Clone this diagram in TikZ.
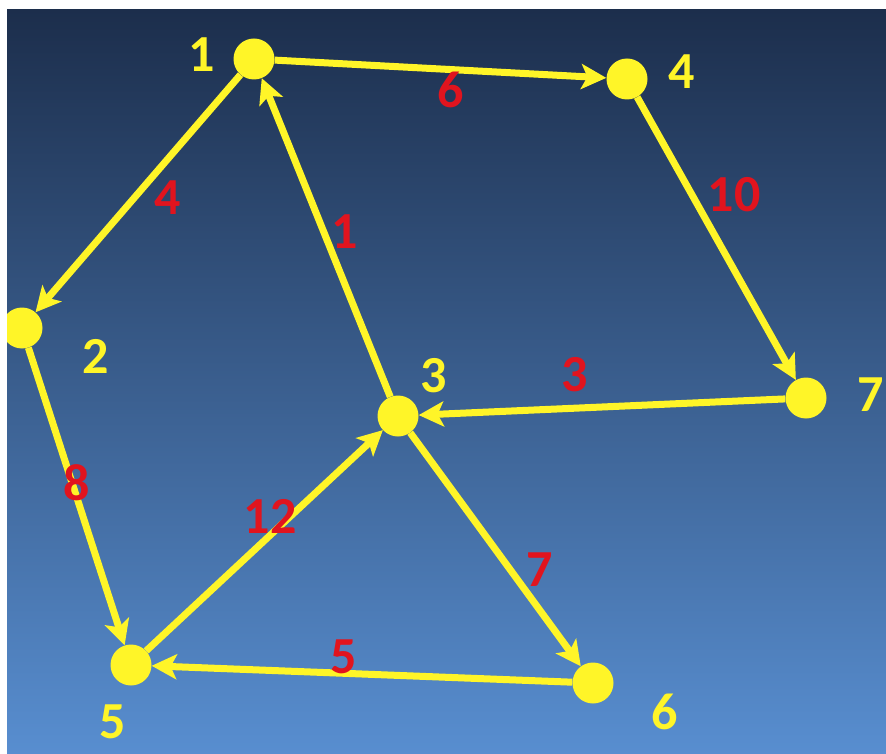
\documentclass[tikz,border=0pt]{standalone}
\usepackage{fontspec}
\setmainfont{Carlito}
\usetikzlibrary{arrows.meta}
\definecolor{ylw}{RGB}{255,245,40}
\definecolor{lblred}{RGB}{225,20,30}
\definecolor{bgtop}{RGB}{28,46,76}
\definecolor{bgbot}{RGB}{88,142,208}
\tikzset{
  vtx/.style={circle,fill=ylw,draw=none,minimum size=41pt,inner sep=0pt},
  vlbl/.style={text=ylw,font=\fontsize{52}{52}\selectfont\bfseries,inner sep=0pt},
  elbl/.style={text=lblred,font=\fontsize{52}{52}\selectfont\bfseries,inner sep=0pt},
  edge/.style={draw=ylw,line width=7pt,-{Stealth[length=25pt,width=25pt,inset=6pt]}}
}
\begin{document}
\begin{tikzpicture}[x=1pt,y=-1pt]
\useasboundingbox (0,0) rectangle (886,754);
\fill[white] (0,0) rectangle (886,754);
\shade[top color=bgtop,bottom color=bgbot] (7,10) rectangle (886,754);
\begin{scope}
\clip (7,10) rectangle (886,754);
\node[vtx] (n1) at (254,59) {};
\node[vtx] (n2) at (22,328) {};
\node[vtx] (n3) at (398,416) {};
\node[vtx] (n4) at (627,79) {};
\node[vtx] (n5) at (131,665) {};
\node[vtx] (n6) at (593,683) {};
\node[vtx] (n7) at (806,398) {};
\draw[edge] (n1) -- (n4);
\draw[edge] (n1) -- (n2);
\draw[edge] (n3) -- (n1);
\draw[edge] (n4) -- (n7);
\draw[edge] (n7) -- (n3);
\draw[edge] (n2) -- (n5);
\draw[edge] (n5) -- (n3);
\draw[edge] (n3) -- (n6);
\draw[edge] (n6) -- (n5);
\node[vlbl] (l1) at (202,55) {1};
\node[vlbl] (l2) at (96,356) {2};
\node[vlbl] (l3) at (434,376) {3};
\node[vlbl] (l4) at (682,72) {4};
\node[vlbl] (l5) at (113,722) {5};
\node[vlbl] (l6) at (665,712) {6};
\node[vlbl] (l7) at (871,395) {7};
\node[elbl] (e14) at (451,90) {6};
\node[elbl] (e12) at (168,198) {4};
\node[elbl] (e31) at (345,232) {1};
\node[elbl] (e47) at (734,195) {10};
\node[elbl] (e73) at (575,375) {3};
\node[elbl] (e25) at (77,483) {8};
\node[elbl] (e53) at (270,516) {12};
\node[elbl] (e36) at (540,570) {7};
\node[elbl] (e65) at (344,657) {5};
\end{scope}
\end{tikzpicture}
\end{document}
